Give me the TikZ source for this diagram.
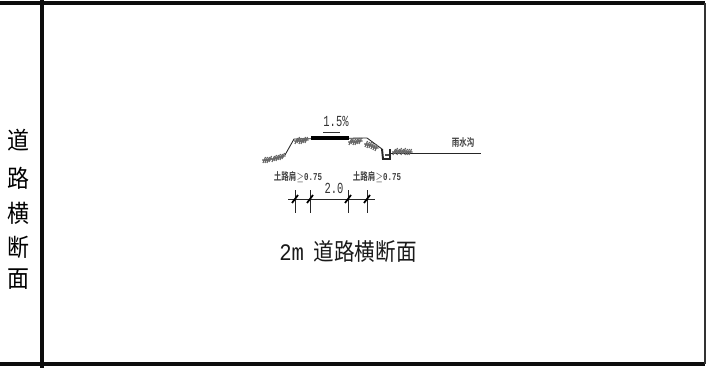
\documentclass[tikz,border=0pt]{standalone}
\usepackage{fontspec}
\setmainfont[BoldFont={Noto Sans CJK SC Bold}]{Noto Sans CJK SC}
\newfontfamily\latinfont{Liberation Mono}
\tikzset{
  frameline/.style={line width=2.6pt,black!95},
  groundline/.style={line width=0.5pt,black!85},
  hatchline/.style={line width=0.65pt,black!60},
  bigtext/.style={font=\fontsize{12.5}{13}\selectfont,inner sep=0pt,yscale=1.1,black},
  titletext/.style={font=\fontsize{11.7}{12}\selectfont,inner sep=0pt,yscale=1.15,black!90},
  smalltext/.style={font=\bfseries\fontsize{5.2}{6}\selectfont,inner sep=0pt,xscale=0.82,yscale=1.15,black!75},
  dimtext/.style={font=\latinfont\fontsize{7}{8}\selectfont,inner sep=0pt,xscale=0.85,yscale=1.25,black!80}
}
\begin{document}
\begin{tikzpicture}[x=0.02cm,y=-0.02cm]
  \useasboundingbox (0,0) rectangle (715,368);

  % Draw frame
  \coordinate (TL) at (0,3);
  \coordinate (TR) at (705,3);
  \coordinate (BL) at (0,364);
  \coordinate (BR) at (705,364);
  \coordinate (V0) at (42,0);
  \coordinate (V1) at (42,368);
  \draw [frameline] (TL) -- (TR);
  \draw [frameline] (BL) -- (BR);
  \draw [frameline] (V0) -- (V1);
  \draw [line width=0.9pt,black!80] (TR) -- (BR);

  % Draw side label
  \node [bigtext] (L1) at (18,140) {道};
  \node [bigtext] (L2) at (18,178) {路};
  \node [bigtext] (L3) at (18,213) {横};
  \node [bigtext] (L4) at (18,247) {断};
  \node [bigtext] (L5) at (18,279) {面};

  % Draw road profile
  \coordinate (P0) at (285,155);
  \coordinate (P1) at (294,139);
  \coordinate (P2) at (367,138);
  \coordinate (P3) at (382,149);
  \coordinate (P4) at (383,159);
  \coordinate (P5) at (390,159);
  \coordinate (P6) at (390,149);
  \coordinate (P7) at (390,153);
  \coordinate (P8) at (481,153);
  \draw [groundline] (P0) -- (P1) -- (P2) -- (P3);
  \draw [line width=1.1pt,black!85] (P3) -- (P4) -- (P5) -- (P6);
  \draw [groundline] (P7) -- (P8);
  \draw [line width=1.1pt,black!70] (385,155) -- (389,155);

  % Draw road surface
  \coordinate (S0) at (311,138);
  \coordinate (S1) at (349,138);
  \draw [line width=1.9pt] (S0) -- (S1);

  % Draw grass
  \foreach \x/\y in {263/160,265/160,267/160,269/159,272/159,274/158,276/158,278/157,280/157,282/156,
      295/141,297/140,299/141,301/141,303/140,305/140,
      349/142,351/141,353/142,355/142,357/141,359/141,
      365/144,367/145,369/145,371/146,373/147,375/148,
      393/152,395/151,397/152,399/151,401/152,403/151,405/152,407/152,409/152}
    \draw [hatchline] (\x,\y+3) -- (\x+2.5,\y-3) (\x-1,\y) -- (\x+3.5,\y);

  % Draw slope
  \node [dimtext] (SL) at (336,121) {1.5\%};
  \coordinate (SL0) at (323,132);
  \coordinate (SL1) at (340,132);
  \draw [line width=0.5pt,black!80] (SL0) -- (SL1);

  % Draw ditch label
  \node [smalltext] (DL) at (463,143) {雨水沟};

  % Draw shoulder labels
  \node [smalltext] (SH0) at (298,177) {土路肩$\geq$\latinfont 0.75};
  \node [smalltext] (SH1) at (377,177) {土路肩$\geq$\latinfont 0.75};

  % Draw width
  \coordinate (W0) at (288,199);
  \coordinate (W1) at (375,199);
  \draw [groundline] (W0) -- (W1);
  \foreach \x in {295,310,348,367} {
    \draw [groundline] (\x,190) -- (\x,213);
    \draw [line width=1pt] (\x-3,203) -- (\x+3,195);
  }
  \node [dimtext] (WL) at (334,188) {2.0};

  % Draw title
  \node [titletext] (T) at (348,252) {{\latinfont\fontsize{11.7}{12}\selectfont 2m}\hspace{5.6pt}道路横断面};

\end{tikzpicture}
\end{document}
